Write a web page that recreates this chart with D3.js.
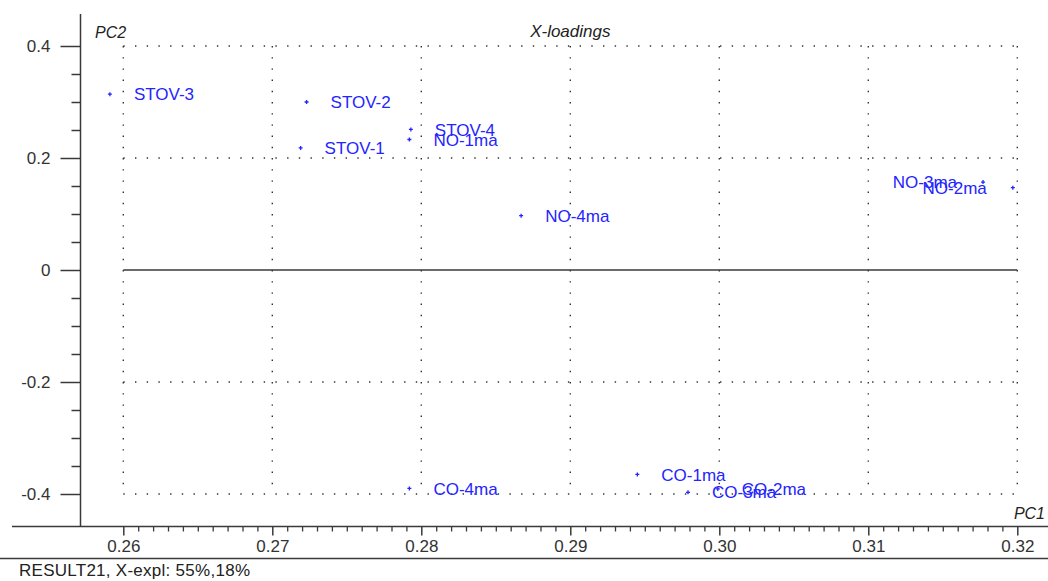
<!DOCTYPE html>
<html>
<head>
<meta charset="utf-8">
<script src="https://cdn.jsdelivr.net/npm/d3@7"></script>
<style>
  html, body { margin: 0; padding: 0; background: #fff; }
  svg { display: block; font-family: "Liberation Sans", Arial, sans-serif; }
</style>
</head>
<body>
<svg id="chart" width="1048" height="581"></svg>
<script>
// ---- data ----
const labels = ["STOV-3", "STOV-2", "STOV-1", "STOV-4", "NO-1ma", "NO-4ma",
                "NO-3ma", "NO-2ma", "CO-4ma", "CO-1ma", "CO-3ma", "CO-2ma"];
const pc1 = [0.2591, 0.2723, 0.2719, 0.2793, 0.2792, 0.2867,
             0.3177, 0.3197, 0.2792, 0.2945, 0.2979, 0.2999];
const pc2 = [0.314, 0.300, 0.218, 0.251, 0.233, 0.097,
             0.157, 0.147, -0.390, -0.365, -0.397, -0.391];
const xTicks = [0.26, 0.27, 0.28, 0.29, 0.30, 0.31, 0.32];
const xTickLabels = ["0.26", "0.27", "0.28", "0.29", "0.30", "0.31", "0.32"];
const yTicks = [0.4, 0.2, 0, -0.2, -0.4];
const yTickLabels = ["0.4", "0.2", "0", "-0.2", "-0.4"];
const title = "X-loadings";
const footer = "RESULT21, X-expl: 55%,18%";

// ---- layout ----
const svg = d3.select("#chart");
const x = d3.scaleLinear().domain([0.26, 0.32]).range([123.3, 1017.3]);
const y = d3.scaleLinear().domain([-0.4, 0.4]).range([494, 46]);
const axisColor = "#3a3a3a";
const blue = "#2424ff";
const axisX = 80.5, axisY = 526.5;

// grid (dotted)
const grid = svg.append("g");
xTicks.forEach(t => {
  grid.append("line")
    .attr("x1", x(t)).attr("x2", x(t)).attr("y1", y(0.4)).attr("y2", y(-0.4))
    .attr("stroke", "#333").attr("stroke-width", 1.4).attr("stroke-dasharray", "1.4,9.8");
});
yTicks.filter(t => t !== 0).forEach(t => {
  grid.append("line")
    .attr("x1", x(0.26)).attr("x2", x(0.32)).attr("y1", y(t)).attr("y2", y(t))
    .attr("stroke", "#333").attr("stroke-width", 1.4).attr("stroke-dasharray", "1.4,10.3");
});
// zero line
svg.append("line")
  .attr("x1", x(0.26)).attr("x2", x(0.32)).attr("y1", y(0)).attr("y2", y(0))
  .attr("stroke", axisColor).attr("stroke-width", 1.5);

// y axis
const yAxisG = svg.append("g").attr("transform", `translate(${axisX},0)`);
yAxisG.append("line").attr("x1", 0).attr("x2", 0).attr("y1", 14).attr("y2", axisY)
  .attr("stroke", axisColor).attr("stroke-width", 1.5);
const yMinor = d3.range(-8, 9).map(i => i * 0.05).filter(v => Math.abs(Math.round(v * 100) % 20) !== 0);
yAxisG.call(d3.axisLeft(y).tickValues(yMinor).tickSize(9).tickFormat(""))
  .call(g => g.select(".domain").remove())
  .call(g => g.selectAll(".tick line").attr("stroke", axisColor).attr("stroke-width", 1.5));
const yMajorG = svg.append("g").attr("transform", `translate(${axisX},0)`);
yMajorG.call(d3.axisLeft(y).tickValues(yTicks).tickSize(20).tickPadding(10)
    .tickFormat((d, i) => yTickLabels[i]))
  .call(g => g.select(".domain").remove())
  .call(g => g.selectAll(".tick line").attr("stroke", axisColor).attr("stroke-width", 1.5))
  .call(g => g.selectAll(".tick text").attr("fill", "#333").attr("font-size", 17)
    .attr("font-family", "Liberation Sans, Arial, sans-serif"));

// x axis
const xAxisG = svg.append("g").attr("transform", `translate(0,${axisY})`);
xAxisG.append("line").attr("x1", 12).attr("x2", 1048).attr("y1", 0).attr("y2", 0)
  .attr("stroke", axisColor).attr("stroke-width", 1.5);
const xMinor = d3.range(260, 321).filter(v => v % 10 !== 0).map(v => v / 1000);
xAxisG.append("g").call(d3.axisBottom(x).tickValues(xMinor).tickSize(5).tickFormat(""))
  .call(g => g.select(".domain").remove())
  .call(g => g.selectAll(".tick line").attr("stroke", axisColor).attr("stroke-width", 1.3));
xAxisG.append("g").call(d3.axisBottom(x).tickValues(xTicks).tickSize(9).tickPadding(4)
    .tickFormat((d, i) => xTickLabels[i]))
  .call(g => g.select(".domain").remove())
  .call(g => g.selectAll(".tick line").attr("stroke", axisColor).attr("stroke-width", 1.5))
  .call(g => g.selectAll(".tick text").attr("fill", "#333").attr("font-size", 17)
    .attr("font-family", "Liberation Sans, Arial, sans-serif"));

// axis titles
svg.append("text").attr("x", 95).attr("y", 38).text("PC2")
  .attr("font-size", 16).attr("font-style", "italic").attr("fill", "#222");
svg.append("text").attr("x", 1045).attr("y", 519).attr("text-anchor", "end").text("PC1")
  .attr("font-size", 16).attr("font-style", "italic").attr("fill", "#222");
svg.append("text").attr("x", (x(0.26) + x(0.32)) / 2).attr("y", 37).attr("text-anchor", "middle")
  .text(title).attr("font-size", 17).attr("font-style", "italic").attr("fill", "#222");

// footer
svg.append("line").attr("x1", 0).attr("x2", 1048).attr("y1", 558.5).attr("y2", 558.5)
  .attr("stroke", "#3a3a3a").attr("stroke-width", 1.5);
svg.append("text").attr("x", 19).attr("y", 576).text(footer)
  .attr("font-size", 17).attr("fill", "#222")
  .attr("textLength", 231).attr("lengthAdjust", "spacing");

// points
const pts = labels.map((l, i) => ({ label: l, x: pc1[i], y: pc2[i] }));
const pg = svg.append("g");
pts.forEach(p => {
  const cx = x(p.x), cy = y(p.y);
  pg.append("path")
    .attr("d", `M${cx - 2},${cy}H${cx + 2}M${cx},${cy - 2}V${cy + 2}`)
    .attr("stroke", blue).attr("stroke-width", 1.3);
  const left = p.x > 0.31;
  pg.append("text")
    .attr("x", left ? cx - 26 : cx + 24)
    .attr("y", cy).attr("dy", "0.36em")
    .attr("text-anchor", left ? "end" : "start")
    .attr("font-size", 17).attr("fill", blue)
    .text(p.label);
});
</script>
</body>
</html>
